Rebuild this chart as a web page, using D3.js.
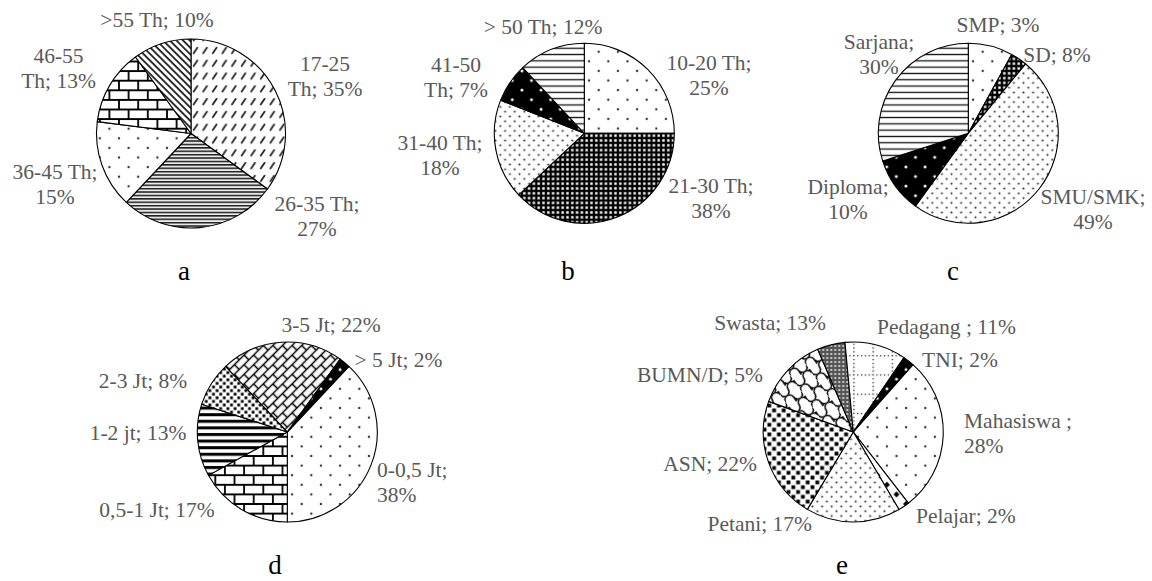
<!DOCTYPE html>
<html>
<head>
<meta charset="utf-8">
<script src="https://cdn.jsdelivr.net/npm/d3@7"></script>
<style>
  body { margin: 0; background: #fff; }
  .lbl { font-family: "Liberation Serif", serif; font-size: 21.5px; fill: #595959; }
  .letter { font-family: "Liberation Serif", serif; font-size: 27px; fill: #000; }
</style>
</head>
<body>
<svg id="chart" width="1152" height="581"></svg>
<script>
// values as printed in the figure
const ageCats   = ["17-25 Th", "26-35 Th", "36-45 Th", "46-55 Th", ">55 Th"];
const agePct    = [35, 27, 15, 13, 10];
const age2Cats  = ["10-20 Th", "21-30 Th", "31-40 Th", "41-50 Th", "> 50 Th"];
const age2Pct   = [25, 38, 18, 7, 12];
const eduCats   = ["SMP", "SD", "SMU/SMK", "Diploma", "Sarjana"];
const eduPct    = [3, 8, 49, 10, 30];
const eduSlice  = [8, 3, 49, 10, 30];      // slice sizes as drawn
const incCats   = ["0-0,5 Jt", "0,5-1 Jt", "1-2 jt", "2-3 Jt", "3-5 Jt", "> 5 Jt"];
const incPct    = [38, 17, 13, 8, 22, 2];
const jobCats   = ["Mahasiswa ", "Pelajar", "Petani", "ASN", "BUMN/D", "Swasta", "Pedagang ", "TNI"];
const jobPct    = [28, 2, 17, 22, 5, 13, 11, 2];
const jobSlice  = [28, 2, 17, 22, 13, 5, 11, 2];
const panelLetters = ["a", "b", "c", "d", "e"];

const LINE_H = 25;
const svg  = d3.select("#chart");
const defs = svg.append("defs");

function pattern(id, w, h, tf) {
  const p = defs.append("pattern")
    .attr("id", id)
    .attr("patternUnits", "userSpaceOnUse")
    .attr("width", w).attr("height", h);
  if (tf) p.attr("patternTransform", tf);
  p.append("rect").attr("width", w).attr("height", h).attr("fill", "#fff");
  return p;
}

function dots(p, pts, r, fill) {
  p.selectAll("circle.d").data(pts).join("circle")
   .attr("class", "d")
   .attr("cx", d => d[0]).attr("cy", d => d[1])
   .attr("r", r).attr("fill", fill);
}

function brick(id, s, sw, tf) {
  const a = s / 4, c = 3 * s / 4;
  pattern(id, s, s, tf).append("path")
    .attr("d", `M0,${a}H${s}M0,${c}H${s}M${a},${a}V${c}M${c},${c}V${s}M${c},0V${a}`)
    .attr("stroke", "#000").attr("stroke-width", sw).attr("fill", "none");
}

let p;
p = pattern("sparseDots", 19.2, 19.2);
dots(p, [[4.8, 4.8], [14.4, 14.4]], 1.2, "#333");

p = pattern("denseDots", 9.6, 9.6);
dots(p, [[2.4, 2.4], [7.2, 7.2]], 1.05, "#333");

p = pattern("blackDots", 19.2, 19.2);
p.select("rect").attr("fill", "#000");
dots(p, [[4.8, 4.8], [14.4, 14.4]], 1.5, "#fff");

p = pattern("hWide", 8, 6.3);
p.append("rect").attr("y", 2.5).attr("width", 8).attr("height", 1.3).attr("fill", "#111");

p = pattern("hDense", 8, 3.4);
p.append("rect").attr("y", 0).attr("width", 8).attr("height", 1.5).attr("fill", "#1a1a1a");
p.append("rect").attr("y", 2.2).attr("width", 8).attr("height", 0.5).attr("fill", "#bbb");

p = pattern("hThick", 8, 6.6);
p.append("rect").attr("y", 1).attr("width", 8).attr("height", 3).attr("fill", "#000");

p = pattern("diagDown", 4.7, 4.7, "rotate(45)");
p.append("rect").attr("width", 4.7).attr("height", 1.8).attr("fill", "#222");

p = pattern("dashUp", 9.6, 12.8);
p.append("line").attr("x1", 2.6).attr("y1", 9.4).attr("x2", 6.4).attr("y2", 3.8)
 .attr("stroke", "#222").attr("stroke-width", 1.8).attr("stroke-linecap", "round");

p = pattern("checker", 4.8, 4.8);
p.select("rect").attr("fill", "#000");
p.append("rect").attr("x", 1.2).attr("y", 1.2).attr("width", 2.4).attr("height", 2.4).attr("fill", "#fff");

p = pattern("grayChecker", 4, 4);
p.select("rect").attr("fill", "#555");
p.append("rect").attr("x", 1.2).attr("y", 1.2).attr("width", 1.6).attr("height", 1.6).attr("fill", "#fff");

p = pattern("squaresL", 9.6, 9.6);
p.selectAll("rect.s").data([[0.5, 0.5], [5.3, 5.3]]).join("rect").attr("class", "s")
 .attr("x", d => d[0]).attr("y", d => d[1]).attr("width", 3.8).attr("height", 3.8).attr("fill", "#000");

p = pattern("squaresS", 7.2, 7.2);
p.selectAll("rect.s").data([[0.4, 0.4], [4, 4]]).join("rect").attr("class", "s")
 .attr("x", d => d[0]).attr("y", d => d[1]).attr("width", 2.8).attr("height", 2.8).attr("fill", "#000");

brick("brickH", 19.2, 1.8);
brick("brickDiag", 13.6, 1.5, "rotate(-45)");

p = pattern("shingle", 19.2, 19.2, "rotate(-35)");
p.append("path")
 .attr("d", "M0,14 A4.8,4.8 0 0 1 9.6,14 A4.8,4.8 0 0 0 19.2,14 M9.6,14 V19.2 M0,4.4 A4.8,4.8 0 0 0 9.6,4.4 M9.6,4.4 A4.8,4.8 0 0 1 19.2,4.4 M0,0 V4.4 M19.2,0 V4.4")
 .attr("stroke", "#000").attr("stroke-width", 1.5).attr("fill", "none");

p = pattern("dottedGrid", 19.2, 19.2);
p.append("path").attr("d", "M0.6,0V19.2M0,0.6H19.2")
 .attr("stroke", "#222").attr("stroke-width", 1.3).attr("stroke-dasharray", "1.3 2.5");

p = pattern("diamonds", 19.2, 19.2);
p.selectAll("path.dm").data([[4.8, 4.8], [14.4, 14.4]]).join("path").attr("class", "dm")
 .attr("d", d => `M${d[0]},${d[1] - 3}L${d[0] + 3},${d[1]}L${d[0]},${d[1] + 3}L${d[0] - 3},${d[1]}Z`)
 .attr("fill", "#000");

// layout table built from the arrays above
const panels = [
  { cats: ageCats, pct: agePct, slice: agePct, cx: 191, cy: 133.5, r: 94.5, start: 0,
    fills: ["dashUp", "hDense", "sparseDots", "brickH", "diagDown"],
    labels: [[325, 71, "middle", 1], [317, 211, "middle", 2], [55, 179, "middle", 2],
             [58.5, 63, "middle", 1], [157, 27, "middle", 0]],
    letter: [184, 280] },
  { cats: age2Cats, pct: age2Pct, slice: age2Pct, cx: 584.3, cy: 133.3, r: 90, start: 0,
    fills: ["sparseDots", "checker", "denseDots", "blackDots", "hWide"],
    labels: [[709, 70, "middle", 2], [711, 193, "middle", 2], [440, 150, "middle", 2],
             [456, 72, "middle", 1], [543, 34, "middle", 0]],
    letter: [568, 280] },
  { cats: eduCats, pct: eduPct, slice: eduSlice, cx: 968.3, cy: 133.3, r: 90, start: 0,
    fills: ["sparseDots", "checker", "denseDots", "blackDots", "hWide"],
    labels: [[998, 32, "middle", 0], [1057, 62, "middle", 0], [1093, 204, "middle", 1],
             [848, 194, "middle", 1], [879, 49, "middle", 1]],
    letter: [953, 280] },
  { cats: incCats, pct: incPct, slice: incPct, cx: 287.3, cy: 432, r: 90, start: 43.2,
    fills: ["sparseDots", "brickH", "hThick", "squaresS", "brickDiag", "blackDots"],
    labels: [[377, 477, "start", 2], [157, 517, "middle", 0], [138, 440, "middle", 0],
             [143, 388, "middle", 0], [331, 332, "middle", 0], [398.5, 367, "middle", 0]],
    letter: [275, 574] },
  { cats: jobCats, pct: jobPct, slice: jobSlice, cx: 853.3, cy: 432, r: 90, start: 41.5,
    fills: ["sparseDots", "diamonds", "denseDots", "squaresL", "shingle", "grayChecker", "dottedGrid", "blackDots"],
    labels: [[964, 428, "start", 2], [916, 523, "start", 0], [812, 531, "end", 0],
             [757, 471, "end", 0], [763, 382, "end", 0], [826, 330, "end", 0],
             [946.5, 334, "middle", 0], [922, 367, "start", 0]],
    letter: [842, 574] }
];

panels.forEach((pn, k) => {
  const a0 = pn.start * Math.PI / 180;
  const pie = d3.pie().sort(null).value(d => d)
                .startAngle(a0).endAngle(a0 + 2 * Math.PI);
  const arc = d3.arc().innerRadius(0).outerRadius(pn.r);

  const g = svg.append("g").attr("transform", `translate(${pn.cx},${pn.cy})`);
  g.selectAll("path")
   .data(pie(pn.slice))
   .join("path")
     .attr("d", arc)
     .attr("fill", (d, i) => `url(#${pn.fills[i]})`)
     .attr("stroke", "#000")
     .attr("stroke-width", 1.1)
     .attr("stroke-linejoin", "round");

  const lab = svg.append("g");
  pn.cats.forEach((c, i) => {
    const [x, y, anchor, brk] = pn.labels[i];
    const words = `${c}; ${pn.pct[i]}%`.split(" ").filter(w => w);
    const lines = brk ? [words.slice(0, brk).join(" "), words.slice(brk).join(" ")]
                      : [words.join(" ")];
    const t = lab.append("text").attr("class", "lbl").attr("text-anchor", anchor);
    lines.forEach((ln, j) => {
      t.append("tspan").attr("x", x).attr("y", y + j * LINE_H).text(ln);
    });
  });

  svg.append("text")
     .attr("class", "letter")
     .attr("x", pn.letter[0]).attr("y", pn.letter[1])
     .attr("text-anchor", "middle")
     .text(panelLetters[k]);
});
</script>
</body>
</html>
